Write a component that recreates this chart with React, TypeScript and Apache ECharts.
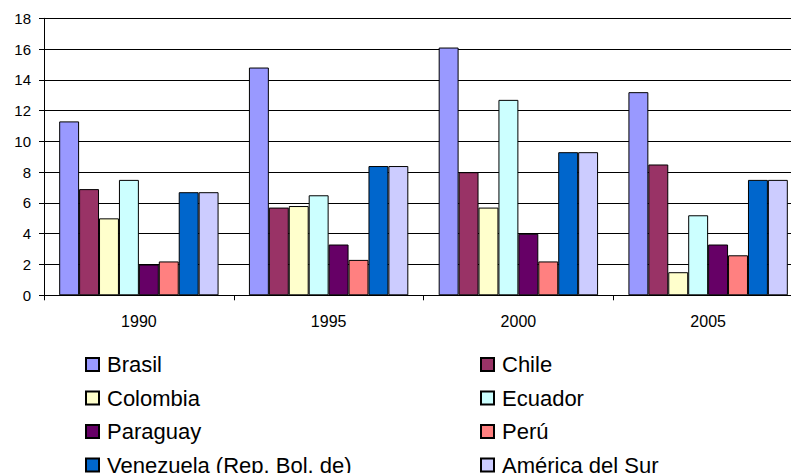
import React, { useEffect, useRef } from "react";
import * as echarts from "echarts";

const years = ["1990", "1995", "2000", "2005"];
const countries = ["Brasil", "Chile", "Colombia", "Ecuador", "Paraguay", "Perú", "Venezuela (Rep. Bol. de)", "América del Sur"];
const colors = ["#9999FF", "#993366", "#FFFFCC", "#CCFFFF", "#660066", "#FF8080", "#0066CC", "#CCCCFF"];

const brasil = [11.3, 14.8, 16.1, 13.2];
const chile = [6.9, 5.7, 8.0, 8.5];
const colombia = [5.0, 5.8, 5.7, 1.5];
const ecuador = [7.5, 6.5, 12.7, 5.2];
const paraguay = [2.0, 3.3, 4.0, 3.3];
const peru = [2.2, 2.3, 2.2, 2.6];
const venezuela = [6.7, 8.4, 9.3, 7.5];
const americaSur = [6.7, 8.4, 9.3, 7.5];

const seriesValues = [brasil, chile, colombia, ecuador, paraguay, peru, venezuela, americaSur];

const leftLegend = ["Brasil", "Colombia", "Paraguay", "Venezuela (Rep. Bol. de)"];
const rightLegend = ["Chile", "Ecuador", "Perú", "América del Sur"];

const FONT = "'Liberation Sans', Arial, sans-serif";

export default function App() {
  const ref = useRef<HTMLDivElement>(null);
  useEffect(() => {
    if (!ref.current) return;
    const chart = echarts.init(ref.current, undefined, { renderer: "svg" });
    const legendCommon = {
      orient: "vertical",
      top: 353.5,
      height: 140,
      padding: 0,
      itemWidth: 13,
      itemHeight: 13,
      itemGap: 11.5,
      icon: "rect",
      textStyle: { fontFamily: FONT, fontSize: 22, color: "#000", lineHeight: 22, padding: [0, 0, 0, 3] },
    };
    chart.setOption({
      animation: false,
      backgroundColor: "#fff",
      grid: { left: 44, right: 0, top: 18.3, bottom: 177.7, containLabel: false },
      legend: [
        { ...legendCommon, left: 85, data: leftLegend },
        { ...legendCommon, left: 480, data: rightLegend },
      ],
      xAxis: {
        type: "category",
        data: years,
        axisLine: { lineStyle: { color: "#000", width: 1 } },
        axisTick: { show: true, length: 5, lineStyle: { color: "#000" } },
        axisLabel: { fontFamily: FONT, fontSize: 16, color: "#000", margin: 18 },
      },
      yAxis: {
        type: "value",
        min: 0,
        max: 18,
        interval: 2,
        axisLine: { show: true, lineStyle: { color: "#000", width: 1 } },
        axisTick: { show: true, length: 5, lineStyle: { color: "#000" } },
        axisLabel: { fontFamily: FONT, fontSize: 15, color: "#000", margin: 13 },
        splitLine: { show: true, lineStyle: { color: "#000", width: 1 } },
      },
      series: countries.map((name, i) => ({
        name,
        type: "bar",
        data: seriesValues[i],
        barGap: "0%",
        barCategoryGap: "16%",
        itemStyle: { color: colors[i], borderColor: "#000", borderWidth: 1 },
      })),
    });
    return () => chart.dispose();
  }, []);
  return (
    <div style={{ position: "absolute", left: 0, top: 0, width: 791, height: 473, overflow: "hidden" }}>
      <div ref={ref} style={{ width: 803, height: 473 }} />
    </div>
  );
}
